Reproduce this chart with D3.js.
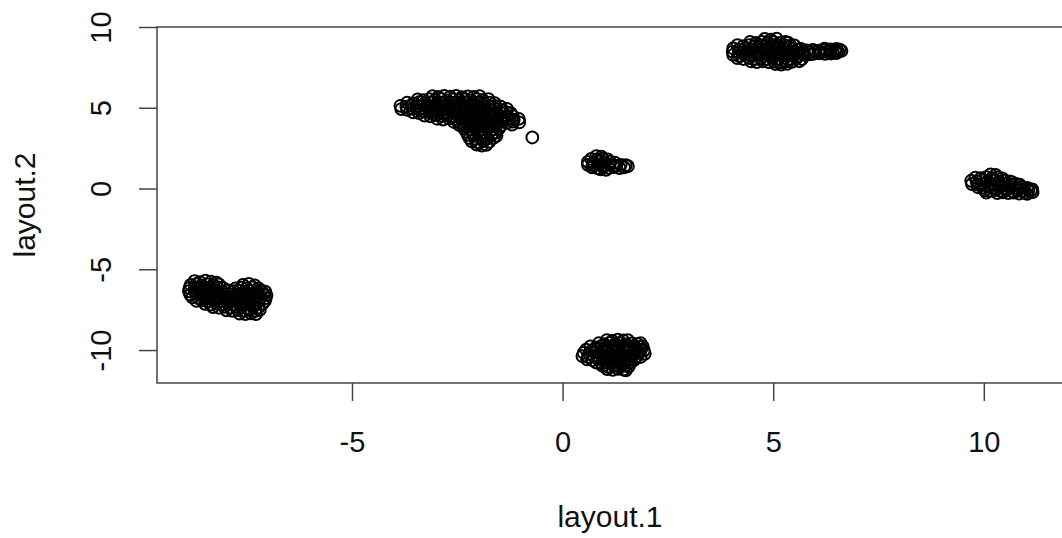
<!DOCTYPE html>
<html>
<head>
<meta charset="utf-8">
<script src="https://cdn.jsdelivr.net/npm/d3@7"></script>
<style>
  html, body { margin: 0; padding: 0; background: #fff; }
  svg { display: block; }
  text { font-family: "Liberation Sans", Arial, sans-serif; fill: #111; }
</style>
</head>
<body>
<svg id="chart" width="1062" height="538"></svg>
<script>
// Axis limits and ticks
const xLim = [-9.63, 11.88];
const yLim = [-12.04, 10.0];
const xTicks = [-5, 0, 5, 10];
const yTicks = [-10, -5, 0, 5, 10];
const xTitle = "layout.1";
const yTitle = "layout.2";

// Embedding coordinates, one array per group of cells
const clusterA = [
  [-8.74,-5.74],[-8.61,-5.79],[-8.48,-5.71],[-8.35,-5.77],[-8.22,-5.82],
  [-8.83,-5.97],[-8.70,-5.92],[-8.57,-5.99],[-8.43,-5.94],[-8.30,-5.98],[-8.16,-5.93],[-7.59,-5.96],[-7.45,-5.91],[-7.31,-5.99],
  [-8.86,-6.17],[-8.73,-6.12],[-8.60,-6.19],[-8.46,-6.14],[-8.33,-6.18],[-8.20,-6.11],[-8.06,-6.16],[-7.77,-6.19],[-7.63,-6.13],[-7.50,-6.17],[-7.36,-6.12],[-7.22,-6.18],
  [-8.87,-6.36],[-8.74,-6.32],[-8.61,-6.38],[-8.47,-6.33],[-8.34,-6.39],[-8.21,-6.34],[-8.08,-6.37],[-7.94,-6.31],[-7.81,-6.36],[-7.68,-6.33],[-7.55,-6.39],[-7.41,-6.34],[-7.28,-6.37],[-7.15,-6.32],[-7.06,-6.38],
  [-8.84,-6.57],[-8.70,-6.52],[-8.57,-6.58],[-8.44,-6.53],[-8.30,-6.56],[-8.17,-6.51],[-8.03,-6.57],[-7.90,-6.54],[-7.77,-6.59],[-7.63,-6.52],[-7.50,-6.56],[-7.37,-6.53],[-7.23,-6.58],[-7.10,-6.54],[-7.03,-6.60],
  [-8.79,-6.74],[-8.65,-6.78],[-8.52,-6.72],[-8.39,-6.77],[-8.25,-6.73],[-8.12,-6.79],[-7.98,-6.74],[-7.85,-6.78],[-7.72,-6.72],[-7.58,-6.77],[-7.45,-6.73],[-7.31,-6.78],[-7.18,-6.74],[-7.05,-6.79],
  [-8.69,-6.96],[-8.56,-6.92],[-8.42,-6.98],[-8.29,-6.93],[-8.15,-6.97],[-8.02,-6.91],[-7.88,-6.96],[-7.75,-6.93],[-7.62,-6.98],[-7.48,-6.94],[-7.35,-6.97],[-7.21,-6.92],[-7.07,-6.96],
  [-8.49,-7.14],[-8.36,-7.18],[-8.22,-7.12],[-8.09,-7.17],[-7.95,-7.13],[-7.82,-7.19],[-7.68,-7.14],[-7.55,-7.18],[-7.41,-7.12],[-7.28,-7.17],[-7.12,-7.13],
  [-8.30,-7.34],[-8.16,-7.38],[-8.03,-7.33],[-7.89,-7.37],[-7.76,-7.32],[-7.62,-7.36],[-7.49,-7.39],[-7.35,-7.34],[-7.22,-7.37],
  [-7.98,-7.54],[-7.84,-7.58],[-7.71,-7.52],[-7.57,-7.56],[-7.44,-7.53],[-7.30,-7.57],[-7.19,-7.52],
  [-7.67,-7.74],[-7.53,-7.78],[-7.40,-7.73],[-7.28,-7.77]
];

const clusterB = [
  [-3.09,5.72],[-2.95,5.67],[-2.81,5.74],[-2.67,5.69],[-2.53,5.73],[-2.39,5.66],[-2.25,5.71],[-2.11,5.68],[-1.97,5.72],
  [-3.44,5.52],[-3.30,5.47],[-3.16,5.54],[-3.02,5.49],[-2.88,5.53],[-2.74,5.46],[-2.60,5.51],[-2.46,5.48],[-2.32,5.52],[-2.18,5.47],[-2.04,5.54],[-1.90,5.49],[-1.76,5.53],
  [-3.69,5.32],[-3.55,5.27],[-3.41,5.34],[-3.27,5.29],[-3.13,5.33],[-2.99,5.26],[-2.85,5.31],[-2.71,5.28],[-2.57,5.32],[-2.43,5.27],[-2.29,5.34],[-2.15,5.29],[-2.01,5.33],[-1.87,5.26],[-1.73,5.31],[-1.61,5.28],
  [-3.85,5.12],[-3.71,5.07],[-3.57,5.14],[-3.43,5.09],[-3.29,5.13],[-3.15,5.06],[-3.01,5.11],[-2.87,5.08],[-2.73,5.12],[-2.59,5.07],[-2.45,5.14],[-2.31,5.09],[-2.17,5.13],[-2.03,5.06],[-1.89,5.11],[-1.75,5.08],[-1.61,5.12],[-1.47,5.07],
  [-3.83,4.92],[-3.69,4.87],[-3.55,4.94],[-3.41,4.89],[-3.27,4.93],[-3.13,4.86],[-2.99,4.91],[-2.85,4.88],[-2.71,4.92],[-2.57,4.87],[-2.43,4.94],[-2.29,4.89],[-2.15,4.93],[-2.01,4.86],[-1.87,4.91],[-1.73,4.88],[-1.59,4.92],[-1.45,4.87],[-1.32,4.93],
  [-3.55,4.72],[-3.41,4.67],[-3.27,4.74],[-3.13,4.69],[-2.99,4.73],[-2.85,4.66],[-2.71,4.71],[-2.57,4.68],[-2.43,4.72],[-2.29,4.67],[-2.15,4.74],[-2.01,4.69],[-1.87,4.73],[-1.73,4.66],[-1.59,4.71],[-1.45,4.68],[-1.33,4.72],[-1.23,4.67],
  [-3.28,4.52],[-3.14,4.47],[-3.00,4.54],[-2.86,4.49],[-2.72,4.53],[-2.58,4.46],[-2.44,4.51],[-2.30,4.48],[-2.16,4.52],[-2.02,4.47],[-1.88,4.54],[-1.74,4.49],[-1.60,4.53],[-1.46,4.46],[-1.32,4.51],[-1.18,4.48],
  [-2.98,4.32],[-2.84,4.27],[-2.70,4.34],[-2.56,4.29],[-2.42,4.33],[-2.28,4.26],[-2.14,4.31],[-2.00,4.28],[-1.86,4.32],[-1.72,4.27],[-1.58,4.34],[-1.44,4.29],[-1.30,4.33],[-1.16,4.26],[-1.04,4.31],
  [-2.58,4.12],[-2.44,4.07],[-2.30,4.14],[-2.16,4.09],[-2.02,4.13],[-1.88,4.06],[-1.74,4.11],[-1.60,4.08],[-1.46,4.12],[-1.32,4.07],[-1.18,4.14],[-1.03,4.09],
  [-2.45,3.92],[-2.31,3.87],[-2.17,3.94],[-2.03,3.89],[-1.89,3.93],[-1.75,3.86],[-1.61,3.91],[-1.47,3.88],[-1.20,3.95],
  [-2.34,3.72],[-2.20,3.67],[-2.06,3.74],[-1.92,3.69],[-1.78,3.73],[-1.64,3.66],[-1.51,3.71],
  [-2.29,3.52],[-2.15,3.47],[-2.01,3.54],[-1.87,3.49],[-1.73,3.53],[-1.58,3.46],
  [-2.25,3.32],[-2.11,3.27],[-1.97,3.34],[-1.83,3.29],[-1.69,3.33],[-1.57,3.26],
  [-2.21,3.12],[-2.07,3.07],[-1.93,3.14],[-1.79,3.09],[-1.64,3.13],
  [-2.16,2.92],[-2.02,2.87],[-1.88,2.94],[-1.74,2.89],
  [-2.04,2.72],[-1.92,2.66],[-1.81,2.71],
  [-0.72,3.16]
];

const clusterC = [
  [0.80,2.01],[0.92,1.97],
  [0.68,1.83],[0.81,1.79],[0.94,1.85],[1.07,1.80],
  [0.60,1.65],[0.73,1.61],[0.86,1.67],[0.99,1.62],[1.12,1.66],[1.24,1.60],
  [0.60,1.47],[0.73,1.43],[0.86,1.49],[0.99,1.44],[1.12,1.48],[1.25,1.42],[1.38,1.47],[1.50,1.44],[1.55,1.38],
  [0.70,1.31],[0.83,1.27],[0.96,1.33],[1.09,1.28],[1.22,1.32],[1.35,1.27],[1.46,1.31],
  [0.90,1.18],[1.03,1.15]
];

const clusterD = [
  [1.05,-9.38],[1.18,-9.43],[1.31,-9.36],[1.44,-9.41],[1.55,-9.39],
  [0.86,-9.58],[0.99,-9.63],[1.12,-9.56],[1.25,-9.61],[1.38,-9.57],[1.51,-9.64],[1.64,-9.59],[1.77,-9.62],[1.85,-9.57],
  [0.66,-9.78],[0.79,-9.83],[0.92,-9.76],[1.05,-9.81],[1.18,-9.77],[1.31,-9.84],[1.44,-9.79],[1.57,-9.82],[1.70,-9.76],[1.83,-9.81],[1.90,-9.78],
  [0.56,-9.98],[0.69,-10.03],[0.82,-9.96],[0.95,-10.01],[1.08,-9.97],[1.21,-10.04],[1.34,-9.99],[1.47,-10.02],[1.60,-9.96],[1.73,-10.01],[1.86,-9.98],[1.93,-10.03],
  [0.50,-10.18],[0.63,-10.23],[0.76,-10.16],[0.89,-10.21],[1.02,-10.17],[1.15,-10.24],[1.28,-10.19],[1.41,-10.22],[1.54,-10.16],[1.67,-10.21],[1.80,-10.18],[1.95,-10.23],
  [0.47,-10.38],[0.60,-10.43],[0.73,-10.36],[0.86,-10.41],[0.99,-10.37],[1.12,-10.44],[1.25,-10.39],[1.38,-10.42],[1.51,-10.36],[1.64,-10.41],[1.77,-10.38],[1.85,-10.43],
  [0.58,-10.58],[0.71,-10.63],[0.84,-10.56],[0.97,-10.61],[1.10,-10.57],[1.23,-10.64],[1.36,-10.59],[1.49,-10.62],[1.62,-10.56],[1.70,-10.61],
  [0.80,-10.78],[0.93,-10.83],[1.06,-10.76],[1.19,-10.81],[1.32,-10.77],[1.45,-10.84],[1.58,-10.79],[1.63,-10.74],
  [0.95,-10.98],[1.08,-11.03],[1.21,-10.96],[1.34,-11.01],[1.47,-10.97],[1.57,-11.02],
  [1.06,-11.18],[1.19,-11.23],[1.32,-11.16],[1.45,-11.21],[1.50,-11.26]
];

const clusterE = [
  [4.80,9.27],[4.94,9.22],[5.08,9.28],
  [4.45,9.07],[4.59,9.02],[4.73,9.08],[4.87,9.03],[5.01,9.06],[5.15,9.01],[5.29,9.07],[5.35,9.03],
  [4.15,8.87],[4.29,8.82],[4.43,8.88],[4.57,8.83],[4.71,8.86],[4.85,8.81],[4.99,8.87],[5.13,8.84],[5.27,8.88],[5.41,8.83],[5.50,8.86],
  [4.05,8.67],[4.19,8.62],[4.33,8.68],[4.47,8.63],[4.61,8.66],[4.75,8.61],[4.89,8.67],[5.03,8.64],[5.17,8.68],[5.31,8.63],[5.45,8.66],[5.59,8.61],[5.66,8.65],[6.22,8.66],[6.36,8.62],[6.50,8.65],[6.58,8.60],
  [5.80,8.55],[5.94,8.58],[6.08,8.54],[6.22,8.57],[6.36,8.53],[6.48,8.56],[6.62,8.52],
  [4.04,8.47],[4.18,8.42],[4.32,8.48],[4.46,8.43],[4.60,8.46],[4.74,8.41],[4.88,8.47],[5.02,8.44],[5.16,8.48],[5.30,8.43],[5.44,8.46],[5.58,8.41],[5.72,8.47],[5.86,8.44],[6.00,8.48],[6.14,8.43],[6.28,8.46],[6.42,8.41],[6.54,8.47],
  [5.95,8.34],[6.09,8.37],[6.23,8.33],[6.37,8.36],[6.50,8.38],
  [4.05,8.27],[4.19,8.22],[4.33,8.28],[4.47,8.23],[4.61,8.26],[4.75,8.21],[4.89,8.27],[5.03,8.24],[5.17,8.28],[5.31,8.23],[5.45,8.26],[5.59,8.21],[5.73,8.27],[5.87,8.30],
  [4.15,8.07],[4.29,8.02],[4.43,8.08],[4.57,8.03],[4.71,8.06],[4.85,8.01],[4.99,8.07],[5.13,8.04],[5.27,8.08],[5.41,8.03],[5.55,8.06],[5.68,8.01],
  [4.47,7.87],[4.61,7.82],[4.75,7.88],[4.89,7.83],[5.03,7.86],[5.17,7.81],[5.31,7.87],[5.45,7.84],[5.62,7.88],
  [5.05,7.71],[5.19,7.67],[5.33,7.72]
];

const clusterF = [
  [10.16,0.88],[10.28,0.84],
  [9.80,0.68],[9.93,0.64],[10.06,0.70],[10.19,0.65],[10.32,0.69],[10.44,0.63],
  [9.70,0.48],[9.83,0.44],[9.96,0.50],[10.09,0.45],[10.22,0.49],[10.35,0.43],[10.48,0.48],[10.61,0.44],[10.67,0.40],
  [9.72,0.28],[9.85,0.24],[9.98,0.30],[10.11,0.25],[10.24,0.29],[10.37,0.23],[10.50,0.28],[10.63,0.25],[10.76,0.29],[10.85,0.24],
  [9.86,0.08],[9.99,0.04],[10.12,0.10],[10.25,0.05],[10.38,0.09],[10.51,0.03],[10.64,0.08],[10.77,0.05],[10.90,0.09],[11.03,0.04],
  [10.02,-0.11],[10.15,-0.15],[10.28,-0.09],[10.41,-0.14],[10.54,-0.10],[10.67,-0.16],[10.80,-0.11],[10.93,-0.14],[11.06,-0.09],[11.12,-0.13],[11.15,-0.05],
  [10.06,-0.26],[10.32,-0.28],[10.45,-0.24],[10.58,-0.29],[10.71,-0.25],[10.84,-0.31],[10.97,-0.27],[11.03,-0.33],[11.16,-0.22]
];

const points = [].concat(clusterA, clusterB, clusterC, clusterD, clusterE, clusterF);

// Plot region
const W = 1062, H = 538;
const plot = { left: 157, right: 1063, top: 27, bottom: 383 };

const svg = d3.select("#chart");
svg.append("rect").attr("width", W).attr("height", H).attr("fill", "#fff");

const x = d3.scaleLinear().domain(xLim).range([plot.left, plot.right]);
const y = d3.scaleLinear().domain(yLim).range([plot.bottom, plot.top]);

// Open-circle markers
svg.append("g")
  .selectAll("circle")
  .data(points)
  .join("circle")
  .attr("cx", d => x(d[0]))
  .attr("cy", d => y(d[1]))
  .attr("r", 5.9)
  .attr("fill", "none")
  .attr("stroke", "#000")
  .attr("stroke-width", 2);

// Frame around the plotting region
svg.append("rect")
  .attr("x", plot.left)
  .attr("y", plot.top)
  .attr("width", plot.right - plot.left)
  .attr("height", plot.bottom - plot.top)
  .attr("fill", "none")
  .attr("stroke", "#444")
  .attr("stroke-width", 1.5);

const tickFont = 29;
const plainNumber = d => String(d);

// Bottom axis
const gx = svg.append("g")
  .attr("transform", `translate(0,${plot.bottom})`)
  .call(d3.axisBottom(x).tickValues(xTicks).tickSize(18).tickPadding(30).tickFormat(plainNumber));
gx.select(".domain").remove();
gx.selectAll(".tick line").attr("stroke", "#444").attr("stroke-width", 1.5);
gx.selectAll(".tick text")
  .attr("font-size", tickFont)
  .attr("font-family", "Liberation Sans, Arial, sans-serif")
  .attr("fill", "#111");

// Left axis with labels rotated parallel to the axis
const gy = svg.append("g")
  .attr("transform", `translate(${plot.left},0)`)
  .call(d3.axisLeft(y).tickValues(yTicks).tickSize(18).tickFormat(plainNumber));
gy.select(".domain").remove();
gy.selectAll(".tick line").attr("stroke", "#444").attr("stroke-width", 1.5);
gy.selectAll(".tick text")
  .attr("x", null)
  .attr("dy", null)
  .attr("text-anchor", "middle")
  .attr("transform", "translate(-46,0) rotate(-90)")
  .attr("font-size", tickFont)
  .attr("font-family", "Liberation Sans, Arial, sans-serif")
  .attr("fill", "#111");

// Axis titles
svg.append("text")
  .attr("x", (plot.left + plot.right) / 2)
  .attr("y", 527)
  .attr("text-anchor", "middle")
  .attr("font-size", 30)
  .text(xTitle);

svg.append("text")
  .attr("transform", `translate(35,${(plot.top + plot.bottom) / 2}) rotate(-90)`)
  .attr("text-anchor", "middle")
  .attr("font-size", 30)
  .text(yTitle);
</script>
</body>
</html>
